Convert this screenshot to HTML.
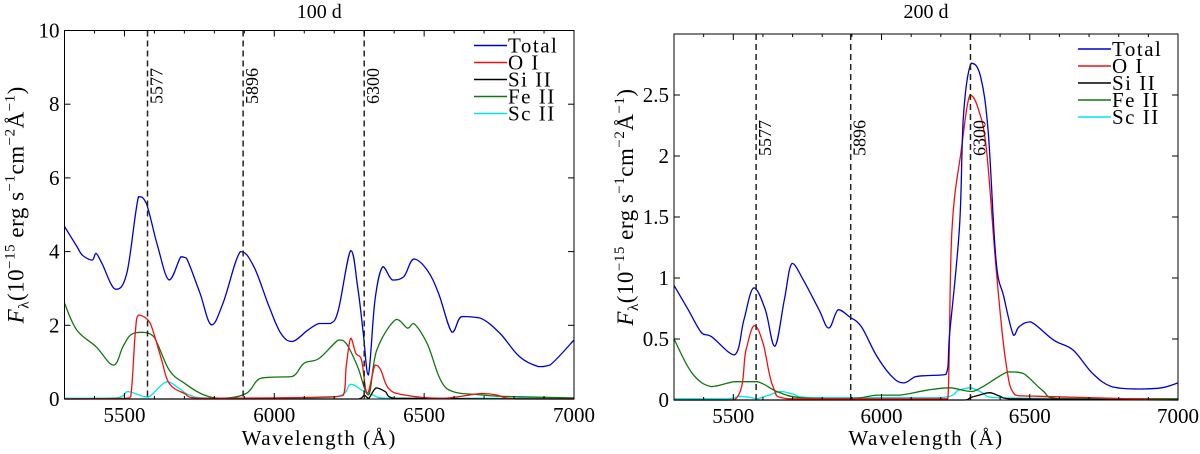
<!DOCTYPE html>
<html><head><meta charset="utf-8"><style>
html,body{margin:0;padding:0;background:#fff;}
svg{display:block;font-family:"Liberation Serif",serif;}
</style></head><body>
<svg id="fig" width="1200" height="454" viewBox="0 0 1200 454" xmlns="http://www.w3.org/2000/svg"></svg>
<script>
// ---- data: 100 d ----
const xTicks = [5500, 6000, 6500, 7000];
const lines = [5577, 5896, 6300];
const p1_total_w = [5300,5341,5360,5392,5405,5425,5469,5508,5547,5573,5611,5649,5688,5707,5752,5790,5829,5887,5932,5983,6022,6060,6112,6149,6188,6214,6255,6278,6297,6314,6336,6362,6394,6432,6465,6510,6548,6593,6625,6689,6753,6818,6882,6920,7000];
const p1_total_v = [4.68,4.14,3.9,3.77,3.95,3.68,2.98,3.41,5.49,5.31,4.14,3.23,3.86,3.82,2.87,2.01,2.6,4.0,3.59,2.5,1.78,1.56,1.87,2.05,2.05,2.42,4.03,3.05,1.78,0.65,2.69,3.59,3.23,3.32,3.8,3.5,2.87,1.81,2.24,2.19,1.78,1.15,0.88,0.92,1.6];
const p1_oi_w = [5300,5500,5521,5536,5547,5579,5598,5624,5649,5700,5752,6000,6150,6230,6240,6255,6272,6291,6310,6336,6355,6381,6432,6560,6689,6740,6805,7000];
const p1_oi_v = [0,0.02,0.06,1.78,2.28,2.14,1.78,1.06,0.43,0.15,0.02,0.03,0.05,0.1,0.88,1.65,1.24,1.06,0.15,0.92,0.79,0.29,0.11,0.02,0.15,0.11,0,0];
const p1_si_w = [5300,6280,6300,6315,6340,6370,6400,7000];
const p1_si_v = [0,0,0.1,0.02,0.3,0.2,0.02,0];
const p1_fe_w = [5300,5341,5405,5463,5495,5521,5559,5598,5649,5700,5765,5829,5906,5945,5983,6060,6099,6149,6214,6240,6278,6314,6342,6406,6445,6465,6510,6574,6689,6818,7000];
const p1_fe_v = [2.6,1.87,1.42,0.92,1.42,1.74,1.81,1.69,0.79,0.43,0.11,0.02,0.15,0.52,0.59,0.61,0.97,1.1,1.6,1.51,0.88,0.11,1.33,2.16,1.92,2.05,1.51,0.29,0.11,0.06,0.03];
const p1_sc_w = [5300,5470,5510,5545,5580,5640,5680,5720,5800,6200,6255,6290,6330,6380,7000];
const p1_sc_v = [0.02,0.03,0.2,0.12,0.05,0.47,0.3,0.1,0.02,0.05,0.4,0.25,0.1,0.02,0.02];
// ---- data: 200 d ----
const p2_total_w = [5300,5348,5393,5426,5504,5536,5569,5608,5640,5672,5698,5737,5789,5822,5854,5893,5932,5984,6036,6075,6114,6153,6217,6230,6263,6276,6302,6334,6360,6386,6412,6445,6464,6503,6581,6646,6711,6776,6866,6944,7000];
const p2_total_v = [0.94,0.74,0.55,0.52,0.37,0.66,0.92,0.74,0.44,0.82,1.12,0.98,0.74,0.59,0.74,0.68,0.6,0.36,0.19,0.14,0.19,0.2,0.21,0.55,1.42,2.32,2.76,2.65,2.19,1.15,0.85,0.53,0.6,0.64,0.49,0.41,0.22,0.11,0.09,0.1,0.14];
const p2_oi_w = [5300,5504,5543,5571,5601,5634,5685,6200,6224,6237,6269,6298,6327,6354,6386,6418,6451,6529,7000];
const p2_oi_v = [0,0,0.41,0.61,0.46,0.11,0.01,0.01,0.01,1.37,2.05,2.5,2.38,2.05,1.09,0.33,0.04,0.03,0];
const p2_si_w = [5300,6280,6300,6330,6365,6400,6430,7000];
const p2_si_v = [0,0,0.02,0.04,0.06,0.03,0.01,0];
const p2_fe_w = [5300,5361,5426,5504,5582,5647,5724,5893,5984,6062,6153,6230,6308,6425,6477,6542,6594,6801,7000];
const p2_fe_v = [0.5,0.22,0.11,0.15,0.15,0.07,0.02,0.01,0.04,0.04,0.08,0.1,0.07,0.23,0.22,0.08,0.01,0.01,0.01];
const p2_sc_w = [5300,5480,5520,5560,5580,5620,5660,5700,5760,6200,6260,6300,6340,6380,7000];
const p2_sc_v = [0.01,0.01,0.03,0.02,0.01,0.04,0.07,0.05,0.02,0.02,0.08,0.1,0.06,0.02,0.01];
const yTicks1 = [0,2,4,6,8,10];
const yTickLabels1 = ["0","2","4","6","8","10"];
const yTicks2 = [0,0.5,1,1.5,2,2.5];
const yTickLabels2 = ["0","0.5","1","1.5","2","2.5"];

const NS = "http://www.w3.org/2000/svg";
const svg = document.getElementById('fig');
function mk(tag, attrs, parent) {
  const e = document.createElementNS(NS, tag);
  for (const k in attrs) e.setAttribute(k, attrs[k]);
  (parent || svg).appendChild(e);
  return e;
}
function clamp(v, a, b) { const lo = Math.min(a,b), hi = Math.max(a,b); return Math.max(lo, Math.min(hi, v)); }
function smoothPath(pts) {
  let d = 'M' + pts[0][0].toFixed(1) + ',' + pts[0][1].toFixed(1);
  for (let i = 0; i < pts.length - 1; i++) {
    const p0 = pts[Math.max(0, i-1)], p1 = pts[i], p2 = pts[i+1], p3 = pts[Math.min(pts.length-1, i+2)];
    const t = 0.18;
    const c1x = clamp(p1[0] + (p2[0]-p0[0])*t, p1[0], p2[0]), c1y = clamp(p1[1] + (p2[1]-p0[1])*t, p1[1], p2[1]);
    const c2x = clamp(p2[0] - (p3[0]-p1[0])*t, p1[0], p2[0]), c2y = clamp(p2[1] - (p3[1]-p1[1])*t, p1[1], p2[1]);
    d += ' C' + c1x.toFixed(1) + ',' + c1y.toFixed(1) + ' ' + c2x.toFixed(1) + ',' + c2y.toFixed(1) + ' ' + p2[0].toFixed(1) + ',' + p2[1].toFixed(1);
  }
  return d;
}
const colors = {total:"#0000cc", oi:"#ee1111", si:"#000000", fe:"#117711", sc:"#00e5e5"};
const legendNames = [["total","Total"],["oi","O I"],["si","Si II"],["fe","Fe II"],["sc","Sc II"]];

function panel(cfg) {
  const g = mk('g', {});
  
  
  const X = w => cfg.x0 + (w - 5300) / 1700 * (cfg.x1 - cfg.x0);
  const Y = v => cfg.y1 - v / cfg.ymax * (cfg.y1 - cfg.y0);
  const t = mk('text', {x:(cfg.x0+cfg.x1)/2, y:18, 'text-anchor':'middle', 'font-size':'20'}, g);
  t.textContent = cfg.title;
  
  
  const series = [["sc",cfg.sc_w,cfg.sc_v],["fe",cfg.fe_w,cfg.fe_v],["si",cfg.si_w,cfg.si_v],["oi",cfg.oi_w,cfg.oi_v],["total",cfg.tw,cfg.tv]];
  for (const [key, ws, vs] of series) {
    const pts = ws.map((w,i)=>[X(w), Y(vs[i])]);
    const p = mk('path', {d:smoothPath(pts), fill:'none', stroke:colors[key], 'stroke-width':'1.3', 'stroke-linejoin':'round'}, g);
    
    
  }
  for (const w of lines) {
    const l = mk('line', {x1:X(w), x2:X(w), y1:cfg.y0, y2:cfg.y1, stroke:'#222', 'stroke-width':'1.5', 'stroke-dasharray':'6,4'}, g);
    
    
    const tx = X(w) + 15, ty = cfg.labY;
    const lt = mk('text', {x:tx, y:ty, 'font-size':'18', transform:`rotate(-90 ${tx} ${ty})`}, g);
    lt.textContent = String(w);
    
    
  }
  const b = mk('rect', {x:cfg.x0, y:cfg.y0, width:cfg.x1-cfg.x0, height:cfg.y1-cfg.y0, fill:'none', stroke:'#000', 'stroke-width':'1'}, g);
  
  
  for (let w = 5300; w <= 7000; w += 100) {
    const major = w % 500 === 0;
    const len = major ? 6 : 3;
    mk('line', {x1:X(w), x2:X(w), y1:cfg.y1, y2:cfg.y1-len, stroke:'#000'}, g);
    mk('line', {x1:X(w), x2:X(w), y1:cfg.y0, y2:cfg.y0+len, stroke:'#000'}, g);
  }
  for (const w of xTicks) {
    const tl = mk('text', {x:X(w), y:cfg.y1+23, 'text-anchor':'middle', 'font-size':'21'}, g);
    tl.textContent = String(w);
    
    
  }
  cfg.yt.forEach((v,i) => {
    mk('line', {x1:cfg.x0, x2:cfg.x0+6, y1:Y(v), y2:Y(v), stroke:'#000'}, g);
    mk('line', {x1:cfg.x1, x2:cfg.x1-6, y1:Y(v), y2:Y(v), stroke:'#000'}, g);
    const tl = mk('text', {x:cfg.x0-5, y:Y(v)+7, 'text-anchor':'end', 'font-size':'21'}, g);
    tl.textContent = cfg.ytl[i];
    
    
  });
  const xl = mk('text', {x:(cfg.x0+cfg.x1)/2, y:445, 'text-anchor':'middle', 'font-size':'21', 'letter-spacing':'1.5'}, g);
  xl.textContent = 'Wavelength (Å)';
  
  
  const yx = cfg.x0 - 41, yy = (cfg.y0+cfg.y1)/2 - 10;
  const yl = mk('text', {x:yx, y:yy, 'text-anchor':'middle', 'font-size':'23', 'letter-spacing':'0.5', transform:`rotate(-90 ${yx} ${yy})`}, g);
  yl.innerHTML = '<tspan font-style="italic">F</tspan><tspan font-size="15" dy="5">λ</tspan><tspan dy="-5">(10</tspan><tspan font-size="15" dy="-9">−15</tspan><tspan dy="9"> erg s</tspan><tspan font-size="15" dy="-9">−1</tspan><tspan dy="9">cm</tspan><tspan font-size="15" dy="-9">−2</tspan><tspan dy="9">Å</tspan><tspan font-size="15" dy="-9">−1</tspan><tspan dy="9">)</tspan>';
  
  
  const lg = mk('g', {}, g);
  
  
  legendNames.forEach(([k, label], i) => {
    const y = cfg.y0 + 15 + i * 17;
    const ll = mk('line', {x1:cfg.x1-100, x2:cfg.x1-67, y1:y, y2:y, stroke:colors[k], 'stroke-width':'1.5'}, lg);
    
    
    const lt = mk('text', {x:cfg.x1-66, y:y+7, 'font-size':'21', 'letter-spacing':'1.5'}, lg);
    lt.textContent = label;
    
    
  });
}
panel({name:'panel-100d', title:'100 d', x0:64.5, x1:574, y0:30.5, y1:399, ymax:10, yt:yTicks1, ytl:yTickLabels1, labY:104,
  tw:p1_total_w, tv:p1_total_v, oi_w:p1_oi_w, oi_v:p1_oi_v, si_w:p1_si_w, si_v:p1_si_v, fe_w:p1_fe_w, fe_v:p1_fe_v, sc_w:p1_sc_w, sc_v:p1_sc_v});
panel({name:'panel-200d', title:'200 d', x0:674, x1:1178, y0:34, y1:400, ymax:3, yt:yTicks2, ytl:yTickLabels2, labY:156,
  tw:p2_total_w, tv:p2_total_v, oi_w:p2_oi_w, oi_v:p2_oi_v, si_w:p2_si_w, si_v:p2_si_v, fe_w:p2_fe_w, fe_v:p2_fe_v, sc_w:p2_sc_w, sc_v:p2_sc_v});
</script>
</body></html>
